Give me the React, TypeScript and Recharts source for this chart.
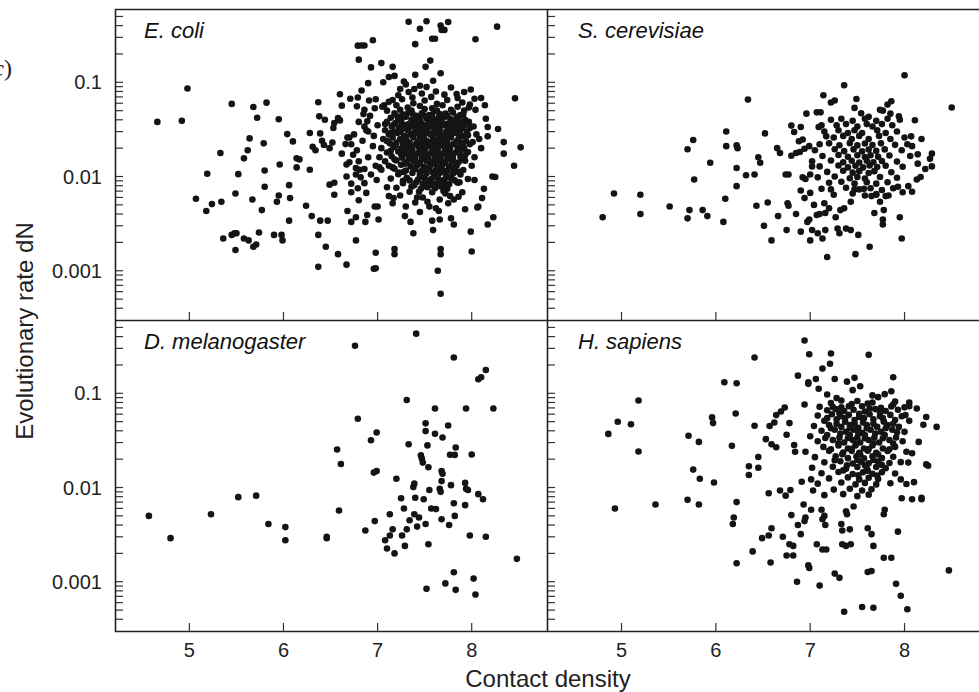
import React from 'react';
import { ScatterChart, Scatter, XAxis, YAxis } from 'recharts';

type Pt = [number, number];

const FONT = '"Liberation Sans", Arial, Helvetica, sans-serif';
const INK = '#141414';

const X_DOMAIN = [4.21, 8.8];
const Y_DOMAIN = [0.0003, 0.6];
const X_TICKS = [5, 6, 7, 8];
const Y_TICKS = [
  0.0004, 0.0005, 0.0006, 0.0007, 0.0008, 0.0009,
  0.001, 0.002, 0.003, 0.004, 0.005, 0.006, 0.007, 0.008, 0.009,
  0.01, 0.02, 0.03, 0.04, 0.05, 0.06, 0.07, 0.08, 0.09,
  0.1, 0.2, 0.3, 0.4, 0.5,
];
const Y_LABELS = [0.001, 0.01, 0.1];

// E. coli
const ecoliSparse: Pt[] = [
  [4.66,0.038],[4.92,0.039],[4.98,0.086],[5.07,0.0058],[5.19,0.0107],[5.18,0.0043],[5.24,0.0051],[5.34,0.0054],[5.33,0.0178],[5.36,0.0022],
  [5.45,0.059],[5.45,0.0024],[5.48,0.0025],[5.50,0.0025],[5.49,0.00166],[5.49,0.0066],[5.52,0.0106],[5.58,0.0156],[5.58,0.0022],[5.63,0.0021],
  [5.62,0.019],[5.64,0.0254],[5.68,0.0547],[5.72,0.042],[5.67,0.0057],[5.68,0.0018],[5.71,0.0019],[5.74,0.00255],[5.77,0.0044],[5.79,0.0225],
  [5.80,0.0116],[5.80,0.0078],[5.82,0.0608],[5.90,0.0024],[5.93,0.0054],[5.95,0.0405],[5.96,0.0134],[5.95,0.0063],[5.98,0.0024],[5.99,0.0021],
  [6.04,0.0282],[6.06,0.0081],[6.07,0.0059],[6.06,0.0034],[6.10,0.0236],[6.14,0.0156],[6.17,0.0152],[6.14,0.0125],[6.24,0.0049],[6.28,0.029],
  [6.28,0.0118],[6.30,0.0038],[6.31,0.0207],[6.34,0.019],[6.37,0.0614],[6.38,0.0435],[6.39,0.0287],[6.41,0.024],[6.43,0.0216],[6.37,0.0024],
  [6.37,0.0011],[6.39,0.0034],[6.47,0.0034],[6.45,0.0018],[6.44,0.040],[6.49,0.020],[6.52,0.023],[6.49,0.0082],[6.54,0.0086],[6.54,0.0064],
  [6.53,0.0327],[6.54,0.037],[6.58,0.0417],[6.60,0.0394],[6.58,0.0015],[6.60,0.0746],[6.62,0.0565],[6.62,0.0175],[6.66,0.0221],[6.67,0.010],
  [6.68,0.0043],[6.67,0.00116],[6.68,0.026],[6.70,0.026],[6.67,0.0134],[6.70,0.0142],[6.71,0.067],[6.72,0.0033],[6.72,0.0084],[6.72,0.0068],
  [6.74,0.017],[6.77,0.0021],[6.77,0.0037],[6.77,0.0123],[6.81,0.0118],[6.77,0.0105],[6.79,0.245],[6.83,0.246],[6.86,0.246],[6.80,0.174],
  [6.79,0.069],[6.78,0.0556],[6.80,0.038],[6.79,0.0075],[6.80,0.0056],[6.83,0.082],[6.86,0.051],[6.86,0.034],[6.86,0.0085],[6.87,0.0033],
  [6.89,0.0039],[6.90,0.098],[6.91,0.064],[6.89,0.0385],[6.90,0.030],[6.88,0.0067],[6.93,0.144],[6.95,0.28],[6.96,0.00105],[6.98,0.00106],
  [6.98,0.00155],[6.97,0.0048],[7.00,0.0048],[7.01,0.0035],[6.98,0.066],[6.97,0.053],[7.04,0.16],[7.06,0.10],[7.07,0.057],[7.08,0.036],
  [7.10,0.0077],[7.12,0.114],[7.16,0.146],[7.18,0.117],[7.16,0.065],[7.18,0.0017],[7.18,0.0015],[7.16,0.0052],[7.17,0.0059],[7.28,0.102],
  [7.29,0.0038],[7.33,0.44],[7.35,0.0033],[7.38,0.0025],[7.40,0.254],[7.40,0.12],[7.39,0.085],[7.45,0.37],[7.52,0.445],[7.51,0.146],
  [7.56,0.17],[7.58,0.29],[7.61,0.29],[7.67,0.40],[7.68,0.36],[7.71,0.36],[7.75,0.436],[7.67,0.125],[7.59,0.104],[7.52,0.089],
  [7.64,0.001],[7.67,0.00057],[7.67,0.0017],[7.67,0.0015],[7.59,0.0027],[7.58,0.0034],[7.66,0.0035],[7.65,0.0043],[7.78,0.0036],[7.81,0.0031],
  [7.93,0.0045],[7.99,0.0026],[8.00,0.0016],[8.04,0.286],[8.27,0.39],[7.99,0.084],[8.03,0.067],[8.10,0.068],[7.98,0.058],[8.14,0.057],
  [8.15,0.041],[8.17,0.0336],[8.28,0.032],[8.17,0.0267],[8.34,0.0232],[8.34,0.0175],[8.46,0.0676],[8.52,0.0204],[8.45,0.013],[8.25,0.0099],
  [8.22,0.0100],[8.23,0.0037],[8.17,0.0031],[8.11,0.0059],[8.07,0.0048],[8.06,0.0047],[8.13,0.0074],[8.03,0.0092],[7.90,0.0068],[7.87,0.0087],
  [7.81,0.0057],[7.75,0.0052],[7.77,0.0062],[7.66,0.0057],[7.55,0.0048],[7.53,0.0054],[7.48,0.006],[7.40,0.0053],[7.42,0.006],[7.34,0.0069],
  [7.27,0.009],[7.23,0.011],
  [6.72,0.022],[6.78,0.019],[6.84,0.024],[6.90,0.016],[6.95,0.021],[6.98,0.013],[6.86,0.012],[6.93,0.0105],[6.80,0.0145],[6.75,0.028],
  [6.88,0.031],[6.96,0.027],[7.00,0.035],[6.92,0.044],[6.85,0.046],[7.02,0.0125],[6.99,0.0092],[6.82,0.0098],
  [7.30,0.0048],[7.45,0.0042],[7.62,0.0046],[7.72,0.0066],[7.86,0.0061],[7.24,0.0063],[7.12,0.0062],
];

const ecoliUpper: Pt[] = [
  [7.05,0.055],[7.20,0.057],[7.32,0.054],[7.45,0.056],[7.58,0.053],[7.69,0.057],[7.85,0.055],[7.97,0.054],
  [7.12,0.062],[7.26,0.066],[7.38,0.060],[7.50,0.064],[7.63,0.059],[7.74,0.065],[7.90,0.061],
  [7.22,0.073],[7.37,0.069],[7.47,0.076],[7.57,0.070],[7.71,0.074],[7.85,0.068],
  [7.10,0.050],[7.24,0.051],[7.36,0.050],[7.50,0.052],[7.63,0.050],[7.78,0.051],[7.92,0.050],[8.04,0.051],
  [7.24,0.085],[7.33,0.079],[7.45,0.092],[7.62,0.080],[7.78,0.088],[7.84,0.075],[7.92,0.079],[7.30,0.095],
];

const ecoliCore: Pt[] = [
  [7.18,0.047],[7.27,0.045],[7.33,0.048],[7.41,0.044],[7.47,0.047],[7.55,0.045],[7.60,0.049],[7.66,0.046],[7.74,0.044],[7.80,0.048],[7.88,0.045],
  [7.14,0.042],[7.22,0.041],[7.30,0.043],[7.36,0.040],[7.44,0.042],[7.52,0.041],[7.58,0.043],[7.63,0.040],[7.70,0.042],[7.77,0.041],[7.84,0.043],[7.93,0.040],
  [7.10,0.038],[7.19,0.037],[7.25,0.039],[7.33,0.036],[7.39,0.038],[7.46,0.037],[7.54,0.039],[7.61,0.037],[7.67,0.038],[7.73,0.036],[7.81,0.039],[7.89,0.037],[7.97,0.038],
  [7.15,0.034],[7.23,0.033],[7.29,0.035],[7.36,0.034],[7.43,0.033],[7.50,0.035],[7.57,0.034],[7.63,0.033],[7.70,0.035],[7.76,0.034],[7.85,0.033],[7.92,0.035],[8.02,0.034],
  [7.08,0.031],[7.18,0.030],[7.26,0.032],[7.32,0.031],[7.40,0.030],[7.47,0.031],[7.53,0.032],[7.60,0.030],[7.66,0.031],[7.73,0.030],[7.79,0.032],[7.88,0.031],[7.95,0.030],
  [7.12,0.028],[7.21,0.029],[7.28,0.027],[7.35,0.028],[7.42,0.029],[7.49,0.027],[7.56,0.028],[7.62,0.029],[7.69,0.027],[7.75,0.028],[7.83,0.029],[7.90,0.027],[8.05,0.028],
  [7.06,0.025],[7.16,0.026],[7.24,0.025],[7.31,0.024],[7.38,0.026],[7.45,0.025],[7.52,0.024],[7.59,0.026],[7.65,0.025],[7.72,0.024],[7.78,0.026],[7.86,0.025],[7.94,0.024],[8.08,0.025],
  [7.13,0.0225],[7.20,0.023],[7.27,0.022],[7.34,0.0228],[7.41,0.0222],[7.48,0.023],[7.55,0.0218],[7.62,0.0226],[7.68,0.022],[7.74,0.023],[7.81,0.0222],[7.89,0.0228],[7.98,0.022],
  [7.04,0.020],[7.17,0.0205],[7.25,0.0198],[7.30,0.0203],[7.37,0.0197],[7.44,0.0204],[7.51,0.0199],[7.58,0.0202],[7.64,0.0196],[7.71,0.0205],[7.77,0.0199],[7.85,0.0203],[7.92,0.0198],[8.10,0.020],
  [7.10,0.018],[7.22,0.0184],[7.29,0.0178],[7.36,0.0183],[7.43,0.0177],[7.50,0.0182],[7.57,0.0179],[7.63,0.0185],[7.70,0.0178],[7.76,0.0183],[7.83,0.018],[7.96,0.0182],
  [7.02,0.016],[7.15,0.0164],[7.26,0.0158],[7.33,0.0163],[7.40,0.0157],[7.47,0.0162],[7.54,0.0159],[7.61,0.0164],[7.67,0.0158],[7.74,0.0162],[7.80,0.0157],[7.88,0.0163],[8.03,0.016],
  [7.08,0.0145],[7.20,0.0148],[7.31,0.0143],[7.38,0.0147],[7.45,0.0142],[7.52,0.0146],[7.59,0.0144],[7.65,0.0148],[7.72,0.0143],[7.79,0.0146],[7.86,0.0142],[7.93,0.0147],
  [7.12,0.013],[7.25,0.0133],[7.35,0.0128],[7.42,0.0132],[7.49,0.0127],[7.56,0.0131],[7.63,0.0129],[7.69,0.0133],[7.76,0.0128],[7.84,0.0131],[8.00,0.013],
  [7.04,0.0118],[7.18,0.0121],[7.30,0.0116],[7.40,0.012],[7.47,0.0115],[7.55,0.0119],[7.62,0.0117],[7.68,0.0121],[7.74,0.0116],[7.82,0.0119],[7.91,0.0117],
  [7.22,0.0106],[7.37,0.0109],[7.45,0.0104],[7.52,0.0108],[7.60,0.0105],[7.66,0.0109],[7.73,0.0104],[7.80,0.0107],[7.88,0.0105],
  [7.14,0.0095],[7.31,0.0097],[7.43,0.0093],[7.50,0.0096],[7.57,0.0094],[7.64,0.0097],[7.71,0.0093],[7.78,0.0096],[7.96,0.0094],
  [7.27,0.0085],[7.41,0.0087],[7.48,0.0083],[7.55,0.0086],[7.62,0.0084],[7.69,0.0087],[7.76,0.0083],[7.85,0.0086],
  [7.20,0.0076],[7.36,0.0078],[7.46,0.0074],[7.53,0.0077],[7.61,0.0075],[7.68,0.0078],[7.74,0.0074],
];

const ecoliFill: Pt[] = [
  [7.21,0.0435],[7.29,0.0455],[7.37,0.0465],[7.45,0.0395],[7.50,0.0445],[7.57,0.0385],[7.65,0.0425],[7.72,0.0465],[7.79,0.0375],[7.86,0.0405],[7.91,0.0455],
  [7.17,0.0355],[7.26,0.0362],[7.32,0.0328],[7.40,0.0352],[7.47,0.0338],[7.55,0.0362],[7.61,0.0322],[7.68,0.0348],[7.75,0.0318],[7.83,0.0358],[7.90,0.0325],[7.98,0.0328],
  [7.14,0.0292],[7.24,0.0298],[7.30,0.0262],[7.38,0.0288],[7.45,0.0268],[7.52,0.0292],[7.58,0.0272],[7.66,0.0282],[7.72,0.0262],[7.80,0.0288],[7.87,0.0265],[7.96,0.0275],
  [7.10,0.0238],[7.19,0.0215],[7.28,0.0232],[7.35,0.0208],[7.43,0.0236],[7.50,0.0212],[7.57,0.0232],[7.63,0.0209],[7.70,0.0235],[7.77,0.0213],[7.84,0.0236],[7.91,0.0212],[8.01,0.0232],
  [7.14,0.0188],[7.25,0.0172],[7.32,0.0191],[7.39,0.0171],[7.46,0.0189],[7.53,0.0169],[7.60,0.0192],[7.66,0.0171],[7.73,0.0189],[7.80,0.0172],[7.88,0.0188],[7.93,0.0168],
  [7.18,0.0152],[7.29,0.0137],[7.36,0.0154],[7.43,0.0136],[7.50,0.0153],[7.57,0.0137],[7.63,0.0152],[7.70,0.0138],[7.77,0.0153],[7.83,0.0138],[7.90,0.0152],
  [7.16,0.0125],[7.28,0.0112],[7.38,0.0124],[7.45,0.0111],[7.52,0.0123],[7.59,0.011],[7.66,0.0124],[7.71,0.0111],[7.79,0.0124],[7.86,0.0112],
  [7.34,0.0091],[7.46,0.0099],[7.53,0.009],[7.60,0.0099],[7.67,0.009],[7.74,0.0099],[7.82,0.0091],
  [7.39,0.0081],[7.51,0.0079],[7.58,0.0081],[7.65,0.008],[7.72,0.0081],[7.44,0.0069],[7.58,0.0068],[7.70,0.007],
];

// S. cerevisiae
const scerSparse: Pt[] = [
  [4.80,0.0037],[4.92,0.0066],[5.20,0.0064],[5.20,0.0040],[5.51,0.0048],[5.70,0.0195],[5.76,0.0244],[5.77,0.0093],[5.72,0.0044],[5.70,0.0036],
  [5.86,0.0044],[5.91,0.0038],[5.94,0.014],[6.08,0.0033],[6.11,0.030],[6.11,0.021],[6.22,0.0214],[6.23,0.020],[6.22,0.0123],[6.22,0.0079],
  [6.10,0.0058],[6.32,0.0103],[6.34,0.0655],[6.41,0.0105],[6.45,0.016],[6.47,0.014],[6.43,0.0049],[6.51,0.0030],[6.52,0.0287],[6.55,0.0053],
  [6.59,0.0021],[6.66,0.0038],[6.65,0.020],[6.68,0.0178],[6.74,0.0105],[6.77,0.0105],[6.75,0.0027],[6.76,0.0052],[6.77,0.0049],[6.80,0.0347],
  [6.83,0.0297],[6.90,0.0336],[6.85,0.0040],[6.90,0.0026],[6.92,0.0098],[6.90,0.0071],[6.94,0.0059],[6.80,0.0166],[6.85,0.0178],[6.89,0.0182],
  [6.94,0.0197],[6.88,0.0237],[6.92,0.0247],[6.96,0.0465],[6.99,0.021],[6.97,0.0033],[6.99,0.0035],[7.00,0.0021],[7.02,0.0027],[7.08,0.0025],
  [7.13,0.0022],[7.00,0.0067],[6.95,0.0094],[7.02,0.0128],[7.00,0.0105],[7.04,0.005],[7.07,0.0039],[7.10,0.004],[7.16,0.0027],[7.18,0.0014],
  [7.14,0.073],[7.07,0.048],[7.11,0.048],[7.09,0.0336],[7.12,0.035],[7.17,0.0267],[7.22,0.061],[7.26,0.064],[7.36,0.093],[7.29,0.0028],
  [7.31,0.0025],[7.38,0.0028],[7.43,0.0027],[7.48,0.0015],[7.51,0.0024],[7.49,0.0665],[7.47,0.0535],[7.54,0.047],[7.62,0.043],[7.63,0.0018],
  [7.74,0.051],[7.77,0.050],[7.82,0.058],[7.86,0.063],[7.85,0.0465],[7.94,0.0436],[8.00,0.119],[8.11,0.0395],[8.50,0.054],[8.18,0.025],
  [8.07,0.0267],[8.08,0.021],[8.14,0.0172],[8.14,0.0137],[8.29,0.0175],[8.27,0.0154],[8.29,0.0128],[8.22,0.012],[8.17,0.0099],[8.13,0.0093],
  [8.08,0.0069],[8.04,0.0079],[7.98,0.0068],[7.93,0.0078],[7.95,0.0037],[7.97,0.0022],[7.78,0.0044],[7.77,0.0035],[7.77,0.0031],[7.68,0.0041],
  [7.74,0.0054],[7.27,0.0037],[7.80,0.0062],[7.70,0.0064],[7.65,0.0062],[7.57,0.0074],[7.47,0.0073],[7.43,0.0054],[7.36,0.0046],[7.32,0.0044],
  [7.20,0.0046],[7.16,0.0041],[7.15,0.0052],[7.22,0.0073],
];

const scerCore: Pt[] = [
  [7.22,0.040],[7.33,0.041],[7.45,0.039],[7.58,0.041],[7.70,0.039],[7.82,0.041],[7.95,0.040],
  [7.28,0.035],[7.38,0.036],[7.50,0.034],[7.60,0.036],[7.66,0.034],[7.76,0.036],[7.87,0.035],
  [7.15,0.030],[7.30,0.031],[7.40,0.029],[7.47,0.031],[7.55,0.029],[7.71,0.031],[7.80,0.029],[7.92,0.030],
  [7.25,0.026],[7.35,0.027],[7.44,0.025],[7.52,0.027],[7.62,0.025],[7.73,0.027],[7.85,0.025],[8.00,0.026],
  [7.10,0.022],[7.20,0.0225],[7.31,0.0215],[7.42,0.0226],[7.50,0.0214],[7.58,0.0224],[7.66,0.0216],[7.75,0.0225],[7.90,0.0217],[8.03,0.022],
  [7.05,0.019],[7.26,0.0195],[7.36,0.0186],[7.46,0.0194],[7.55,0.0185],[7.62,0.0193],[7.70,0.0187],[7.79,0.0194],[7.97,0.019],
  [7.13,0.0165],[7.30,0.0169],[7.40,0.0162],[7.50,0.0168],[7.58,0.0161],[7.64,0.0168],[7.72,0.0162],[7.84,0.0167],[8.06,0.0165],
  [7.02,0.0145],[7.22,0.0148],[7.35,0.0142],[7.44,0.0147],[7.52,0.0141],[7.60,0.0147],[7.67,0.0142],[7.76,0.0146],[7.92,0.0144],
  [7.10,0.0128],[7.30,0.0131],[7.40,0.0125],[7.48,0.013],[7.56,0.0125],[7.63,0.0131],[7.71,0.0126],[7.80,0.013],[7.98,0.0127],
  [7.18,0.0112],[7.35,0.0115],[7.45,0.011],[7.52,0.0114],[7.62,0.0109],[7.68,0.0114],[7.86,0.0111],
  [7.08,0.0098],[7.26,0.01],[7.42,0.0096],[7.50,0.0099],[7.58,0.0095],[7.74,0.0099],[7.92,0.0097],
  [7.20,0.0086],[7.33,0.0088],[7.47,0.0084],[7.60,0.0087],[7.70,0.0084],[7.82,0.0087],
  [7.12,0.0074],[7.38,0.0076],[7.52,0.0073],[7.64,0.0075],[7.76,0.0072],[7.88,0.0075],
  [7.25,0.0064],[7.45,0.0066],[7.58,0.0063],[7.70,0.0065],[7.83,0.0063],
];

// D. melanogaster
const dmelPoints: Pt[] = [
  [4.57,0.005],[4.80,0.0029],[5.23,0.0052],[5.52,0.0079],[5.71,0.0082],[5.84,0.0041],[6.02,0.0038],[6.02,0.00276],[6.46,0.003],[6.46,0.0029],
  [6.57,0.0253],[6.61,0.0178],[6.59,0.0057],[6.76,0.32],[6.79,0.0537],[6.87,0.0035],[6.93,0.0318],[6.99,0.0384],[6.96,0.0144],[6.99,0.015],
  [6.97,0.0044],[7.08,0.00276],[7.10,0.00225],[7.13,0.0031],[7.13,0.0052],[7.16,0.0036],[7.18,0.002],[7.20,0.0124],[7.25,0.0077],[7.26,0.0031],
  [7.28,0.006],[7.29,0.0024],[7.31,0.085],[7.31,0.0036],[7.33,0.0288],[7.34,0.0045],[7.39,0.0052],[7.38,0.0101],[7.39,0.011],[7.40,0.0078],
  [7.41,0.43],[7.42,0.00385],[7.44,0.0048],[7.46,0.022],[7.47,0.0203],[7.48,0.0184],[7.49,0.0075],[7.51,0.0041],[7.51,0.048],[7.51,0.0397],
  [7.52,0.00084],[7.53,0.028],[7.54,0.0164],[7.55,0.0094],[7.54,0.0025],[7.57,0.006],[7.62,0.0059],[7.61,0.069],[7.61,0.0372],[7.67,0.009],
  [7.66,0.0097],[7.68,0.0046],[7.69,0.034],[7.68,0.015],[7.69,0.014],[7.68,0.0117],[7.75,0.0456],[7.76,0.004],[7.77,0.0223],[7.82,0.0222],
  [7.78,0.0106],[7.81,0.24],[7.81,0.0068],[7.82,0.005],[7.83,0.0266],[7.81,0.00126],[7.72,0.00096],[7.83,0.00082],[7.94,0.069],[7.93,0.0112],
  [7.94,0.0097],[7.96,0.0094],[7.93,0.0065],[7.98,0.0031],[8.00,0.0224],[8.02,0.00108],[8.04,0.00073],[8.07,0.141],[8.10,0.148],[8.15,0.177],
  [8.07,0.0085],[8.12,0.0075],[8.15,0.003],[8.23,0.069],[8.48,0.00175],
];

// H. sapiens
const hsapSparse: Pt[] = [
  [4.86,0.0371],[4.96,0.0499],[5.10,0.047],[5.18,0.084],[5.18,0.0241],[4.93,0.006],[5.36,0.0066],[5.71,0.0354],[5.82,0.0305],[5.76,0.0155],
  [5.83,0.0124],[5.70,0.0074],[5.82,0.0066],[5.98,0.0113],[5.96,0.0555],[5.97,0.0483],[6.09,0.131],[6.22,0.128],[6.21,0.061],[6.17,0.0277],
  [6.22,0.007],[6.19,0.0048],[6.18,0.0041],[6.22,0.00157],[6.35,0.0168],[6.35,0.0136],[6.45,0.0162],[6.45,0.0211],[6.41,0.24],[6.41,0.0452],
  [6.53,0.0326],[6.57,0.045],[6.62,0.049],[6.59,0.0288],[6.64,0.0268],[6.64,0.0587],[6.69,0.064],[6.73,0.0707],[6.75,0.0363],[6.78,0.0483],
  [6.83,0.0283],[6.84,0.024],[6.56,0.0087],[6.68,0.0093],[6.74,0.0082],[6.79,0.0094],[6.39,0.0021],[6.49,0.0029],[6.56,0.0031],[6.59,0.0037],
  [6.58,0.0016],[6.71,0.003],[6.78,0.0025],[6.82,0.0024],[6.75,0.0019],[6.82,0.0019],[6.86,0.001],[6.80,0.0051],[6.87,0.004],[6.90,0.0032],
  [6.87,0.154],[6.94,0.364],[6.99,0.26],[7.22,0.265],[7.21,0.206],[7.13,0.183],[7.62,0.256],[6.94,0.076],[6.98,0.131],[6.98,0.126],
  [7.06,0.142],[7.26,0.142],[7.39,0.133],[7.47,0.146],[7.53,0.119],[7.88,0.148],[6.91,0.0115],[7.01,0.0122],[7.03,0.0093],[6.93,0.0066],
  [6.95,0.0048],[6.94,0.0044],[7.01,0.0058],[6.98,0.00149],[6.99,0.0014],[7.07,0.0025],[7.13,0.0022],[7.17,0.0022],[7.10,0.00091],[7.26,0.00122],
  [7.31,0.0011],[7.36,0.00048],[7.55,0.00054],[7.67,0.00053],[8.03,0.00051],[7.96,0.00071],[7.91,0.00095],[7.61,0.00127],[7.65,0.0013],[7.78,0.0018],
  [7.86,0.0018],[7.93,0.0034],[7.67,0.0024],[7.61,0.0037],[7.65,0.0032],[7.34,0.0025],[7.38,0.0024],[7.43,0.0025],[7.34,0.0035],[7.42,0.0036],
  [7.33,0.0041],[7.39,0.0052],[7.38,0.0056],[7.46,0.0063],[7.78,0.0052],[7.79,0.0058],[8.47,0.00132],[8.34,0.044],[8.23,0.056],[8.20,0.0464],
  [8.15,0.0305],[8.23,0.0176],[8.25,0.017],[8.08,0.0231],[8.10,0.0114],[8.18,0.0078],[8.18,0.0075],[8.08,0.0075],[7.97,0.0077],[8.02,0.0109],
  [7.96,0.0122],[8.04,0.0184],[8.05,0.080],[8.05,0.073],[8.13,0.069],[8.01,0.0587],[7.86,0.105],[7.79,0.098],
  [7.12,0.0058],[7.15,0.0050],[7.13,0.0046],[7.16,0.0040],
  [7.09,0.112],[7.18,0.097],[7.45,0.108],[7.66,0.095],
];

const hsapCore: Pt[] = [
  [7.28,0.089],[7.50,0.083],[7.72,0.091],[7.90,0.082],
  [7.10,0.072],[7.22,0.079],[7.33,0.071],[7.44,0.077],[7.55,0.073],[7.66,0.080],[7.75,0.070],[7.88,0.076],[8.00,0.071],
  [7.18,0.066],[7.27,0.068],[7.36,0.065],[7.46,0.067],[7.58,0.064],[7.69,0.068],[7.80,0.065],[7.93,0.067],
  [7.08,0.058],[7.23,0.060],[7.32,0.057],[7.41,0.059],[7.52,0.056],[7.63,0.060],[7.74,0.057],[7.85,0.059],[7.97,0.057],
  [7.15,0.051],[7.28,0.053],[7.37,0.050],[7.47,0.052],[7.56,0.049],[7.67,0.053],[7.78,0.050],[7.90,0.052],[8.05,0.051],
  [7.04,0.045],[7.20,0.046],[7.33,0.044],[7.42,0.046],[7.51,0.043],[7.60,0.046],[7.71,0.044],[7.82,0.046],[7.94,0.044],
  [7.12,0.040],[7.26,0.041],[7.38,0.039],[7.46,0.041],[7.55,0.038],[7.64,0.041],[7.75,0.039],[7.87,0.041],[8.00,0.039],
  [7.00,0.035],[7.18,0.036],[7.31,0.034],[7.42,0.036],[7.50,0.034],[7.58,0.036],[7.68,0.034],[7.79,0.036],[7.91,0.034],
  [7.08,0.031],[7.24,0.032],[7.36,0.030],[7.45,0.032],[7.53,0.030],[7.62,0.032],[7.73,0.030],[7.84,0.032],[7.98,0.031],
  [7.14,0.027],[7.30,0.028],[7.40,0.026],[7.48,0.028],[7.57,0.026],[7.66,0.028],[7.77,0.026],[7.90,0.027],
  [6.95,0.024],[7.20,0.0245],[7.35,0.0235],[7.44,0.0245],[7.52,0.0233],[7.61,0.0246],[7.70,0.0234],[7.82,0.0244],[8.02,0.024],
  [7.05,0.021],[7.27,0.0215],[7.40,0.0205],[7.49,0.0214],[7.57,0.0204],[7.66,0.0215],[7.76,0.0205],[7.88,0.0212],
  [7.15,0.0185],[7.32,0.019],[7.45,0.018],[7.54,0.0188],[7.62,0.0181],[7.72,0.0189],[7.84,0.0182],[7.96,0.0186],
  [7.02,0.0162],[7.24,0.0166],[7.38,0.0158],[7.50,0.0165],[7.60,0.0159],[7.70,0.0165],[7.80,0.016],
  [7.12,0.0142],[7.30,0.0146],[7.45,0.0139],[7.56,0.0145],[7.66,0.014],[7.76,0.0145],[7.90,0.0141],
  [7.20,0.0125],[7.40,0.0128],[7.52,0.0122],[7.62,0.0127],[7.72,0.0123],
  [7.08,0.011],[7.33,0.0113],[7.48,0.0108],[7.58,0.0112],[7.70,0.0108],[7.85,0.0111],
  [7.25,0.0095],[7.42,0.0097],[7.55,0.0093],[7.65,0.0096],
  [7.15,0.0083],[7.35,0.0085],[7.50,0.0081],[7.62,0.0084],
];

const hsapFill: Pt[] = [
  [7.33,0.084],[7.61,0.078],
  [7.24,0.0715],[7.31,0.0615],[7.41,0.073],[7.52,0.0605],[7.63,0.069],[7.74,0.063],[7.86,0.0725],
  [7.18,0.0545],[7.28,0.0475],[7.37,0.0545],[7.47,0.0475],[7.57,0.0545],[7.67,0.0475],[7.77,0.0545],[7.88,0.0475],
  [7.22,0.0425],[7.32,0.0375],[7.42,0.0425],[7.51,0.0375],[7.60,0.0425],[7.69,0.0375],[7.80,0.0425],[7.92,0.0385],
  [7.16,0.0335],[7.30,0.0295],[7.40,0.0335],[7.49,0.0293],[7.58,0.0333],[7.67,0.0295],[7.77,0.0333],[7.88,0.0293],
  [7.22,0.0255],[7.34,0.0225],[7.44,0.0257],[7.53,0.0224],[7.62,0.0256],[7.72,0.0224],[7.84,0.0255],
  [7.26,0.0195],[7.39,0.0172],[7.50,0.0196],[7.58,0.0172],[7.67,0.0196],[7.76,0.0173],[7.35,0.0152],[7.51,0.0135],[7.61,0.0151],[7.71,0.0134],
];

const Dot = (props: any) => {
  if (props.cx == null || props.cy == null) return null;
  return <circle cx={props.cx} cy={props.cy} r={3.3} fill={INK} />;
};

const XTick = (props: any) => {
  const { x, y, payload, showLabel } = props;
  return (
    <g>
      <line x1={x} x2={x} y1={y} y2={y - 8} stroke="#333" strokeWidth={1.2} />
      {showLabel && (
        <text x={x} y={y + 26} textAnchor="middle" fontFamily={FONT} fontSize={20} fill="#222">
          {payload.value}
        </text>
      )}
    </g>
  );
};

const YTick = (props: any) => {
  const { x, y, payload, showLabel } = props;
  const major = Y_LABELS.includes(payload.value);
  return (
    <g>
      <line x1={x} x2={x + 8} y1={y} y2={y} stroke="#333" strokeWidth={1.2} />
      {showLabel && major && (
        <text x={x - 13} y={y + 7} textAnchor="end" fontFamily={FONT} fontSize={20} fill="#222">
          {String(payload.value)}
        </text>
      )}
    </g>
  );
};

interface PanelProps {
  points: Pt[];
  left: number;
  top: number;
  width: number;
  height: number;
  margin: { top: number; right: number; bottom: number; left: number };
  showX: boolean;
  showY: boolean;
}

// axes get 1px of size so recharts draws them; the margins absorb it
function Panel({ points, left, top, width, height, margin, showX, showY }: PanelProps) {
  const data = points.map(([x, y]) => ({ x, y }));
  return (
    <div style={{ position: 'absolute', left, top }}>
      <ScatterChart width={width} height={height} margin={margin}>
        <XAxis
          type="number"
          dataKey="x"
          domain={X_DOMAIN}
          ticks={X_TICKS}
          interval={0}
          allowDataOverflow
          axisLine={false}
          tickLine={false}
          tickSize={0}
          tickMargin={0}
          height={1}
          tick={(p: any) => <XTick {...p} showLabel={showX} />}
        />
        <YAxis
          type="number"
          dataKey="y"
          scale="log"
          domain={Y_DOMAIN}
          ticks={Y_TICKS}
          interval={0}
          allowDataOverflow
          axisLine={false}
          tickLine={false}
          tickSize={0}
          tickMargin={0}
          width={1}
          tick={(p: any) => <YTick {...p} showLabel={showY} />}
        />
        <Scatter data={data} isAnimationActive={false} shape={Dot} />
      </ScatterChart>
    </div>
  );
}

const italic = { fontFamily: FONT, fontSize: 22, fontStyle: 'italic' as const, fill: '#111' };

export default function App() {
  return (
    <div style={{ position: 'absolute', left: 0, top: 0, width: 979, height: 692, background: '#fff', overflow: 'hidden' }}>
      <Panel points={[...ecoliSparse, ...ecoliUpper, ...ecoliCore, ...ecoliFill]} left={0} top={0} width={547} height={321}
        margin={{ top: 9, right: 0, bottom: 0, left: 114 }} showX={false} showY />
      <Panel points={[...scerSparse, ...scerCore]} left={546} top={0} width={434} height={321}
        margin={{ top: 9, right: 0, bottom: 0, left: 0 }} showX={false} showY={false} />
      <Panel points={dmelPoints} left={0} top={320} width={547} height={372}
        margin={{ top: 0, right: 0, bottom: 60, left: 114 }} showX showY />
      <Panel points={[...hsapSparse, ...hsapCore, ...hsapFill]} left={546} top={320} width={434} height={372}
        margin={{ top: 0, right: 0, bottom: 60, left: 0 }} showX showY={false} />

      <svg width={979} height={692} style={{ position: 'absolute', left: 0, top: 0, pointerEvents: 'none' }}>
        <g stroke="#222" strokeWidth={1.6}>
          <line x1={115} x2={980} y1={9.5} y2={9.5} />
          <line x1={115} x2={980} y1={320.5} y2={320.5} />
          <line x1={115} x2={980} y1={631.5} y2={631.5} />
          <line x1={115.5} x2={115.5} y1={9} y2={632} />
          <line x1={547.5} x2={547.5} y1={9} y2={632} />
        </g>
        <text x={144} y={38} {...italic}>E. coli</text>
        <text x={578} y={38} {...italic}>S. cerevisiae</text>
        <text x={144} y={349} {...italic}>D. melanogaster</text>
        <text x={578} y={349} {...italic}>H. sapiens</text>
        <text x={548} y={687} textAnchor="middle" fontFamily={FONT} fontSize={24} fill="#222">Contact density</text>
        <text x={33} y={331} textAnchor="middle" fontFamily={FONT} fontSize={24} fill="#222" transform="rotate(-90, 33, 331)">
          Evolutionary rate dN
        </text>
        <text x={12} y={76} textAnchor="end" fontFamily='"Liberation Serif", "Times New Roman", serif' fontSize={24} fill="#222">
          (<tspan fontStyle="italic">c</tspan>)
        </text>
      </svg>
    </div>
  );
}
